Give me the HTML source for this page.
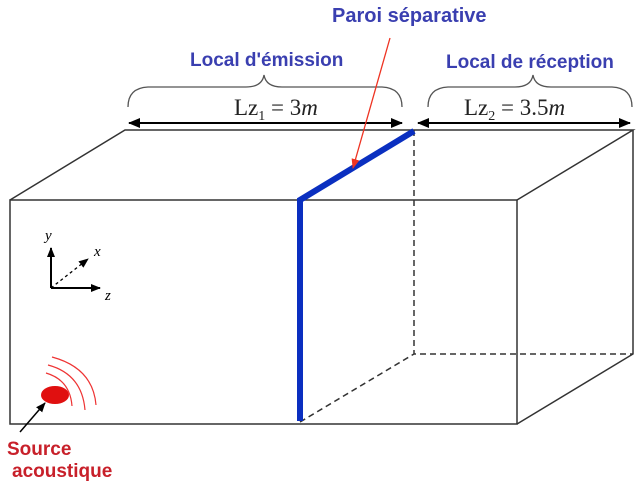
<!DOCTYPE html><html><head><style>body{margin:0;background:#fff}svg{display:block}</style></head><body>
<svg width="642" height="502" viewBox="0 0 642 502" xmlns="http://www.w3.org/2000/svg">
<defs><marker id="a" markerWidth="12" markerHeight="10" refX="11" refY="5" orient="auto-start-reverse" markerUnits="userSpaceOnUse"><path d="M0,0L12,5L0,10Z" fill="#000"/></marker>
<marker id="r" markerWidth="10" markerHeight="8" refX="9" refY="4" orient="auto" markerUnits="userSpaceOnUse"><path d="M0,0L10,4L0,8Z" fill="#e32"/></marker>
<marker id="s" markerWidth="10" markerHeight="8" refX="9" refY="4" orient="auto" markerUnits="userSpaceOnUse"><path d="M0,0L10,4L0,8Z" fill="#000"/></marker></defs>
<g stroke="#333" stroke-width="1.5" fill="none">
<rect x="10" y="200" width="507" height="224"/>
<path d="M10,200L125,130L633,130L517,200M633,130V354L517,424"/>
<path d="M414,130V354H633M300,422L414,354" stroke-dasharray="6,4"/>
</g>
<path d="M300,421V200L414,131" stroke="#0a2fc0" stroke-width="6" fill="none"/>
<g stroke="#000" stroke-width="2"><line x1="129" y1="123" x2="402" y2="123" marker-start="url(#a)" marker-end="url(#a)"/><line x1="418" y1="123" x2="630" y2="123" marker-start="url(#a)" marker-end="url(#a)"/></g>
<g stroke="#555" stroke-width="1.3" fill="none">
<path d="M128,107Q128,88 148,87L246,87Q262,87 264,75Q266,87 282,87L382,87Q402,88 402,107"/>
<path d="M428,107Q428,88 448,87L515,87Q531,87 533,75Q535,87 551,87L612,87Q632,88 632,107"/></g>
<g font-family="Liberation Serif,serif" font-size="23" fill="#222"><text x="234" y="115">Lz<tspan font-size="14" dy="5">1</tspan><tspan dy="-5"> = 3</tspan><tspan font-style="italic">m</tspan></text>
<text x="464" y="115">Lz<tspan font-size="14" dy="5">2</tspan><tspan dy="-5"> = 3.5</tspan><tspan font-style="italic">m</tspan></text></g>
<g font-family="Liberation Sans,sans-serif" font-weight="bold" fill="#3a3fb0">
<text x="332" y="22" font-size="20">Paroi séparative</text><text x="190" y="66" font-size="19">Local d'émission</text><text x="446" y="68" font-size="19">Local de réception</text></g>
<line x1="390" y1="38" x2="353" y2="168" stroke="#e32" stroke-width="1.3" marker-end="url(#r)"/>
<g stroke="#000" stroke-width="2" fill="none"><path d="M51,288V248" marker-end="url(#s)"/><path d="M51,288H100" marker-end="url(#s)"/><path d="M51,288L88,259" stroke-width="1.3" stroke-dasharray="3,3" marker-end="url(#s)"/></g>
<g font-family="Liberation Serif,serif" font-style="italic" font-size="15"><text x="45" y="240">y</text><text x="94" y="256">x</text><text x="105" y="300">z</text></g>
<ellipse cx="55" cy="395" rx="14" ry="9" fill="#e01010"/>
<g stroke="#e33" stroke-width="1.2" fill="none"><path d="M46,373Q70,380 72,406"/><path d="M48,365Q82,374 85,410"/><path d="M52,357Q93,368 96,405"/></g>
<line x1="20" y1="432" x2="45" y2="403" stroke="#000" stroke-width="1.5" marker-end="url(#s)"/>
<g font-family="Liberation Sans,sans-serif" font-weight="bold" font-size="19" fill="#c8202a"><text x="7" y="455">Source</text><text x="12" y="477">acoustique</text></g>
</svg></body></html>
